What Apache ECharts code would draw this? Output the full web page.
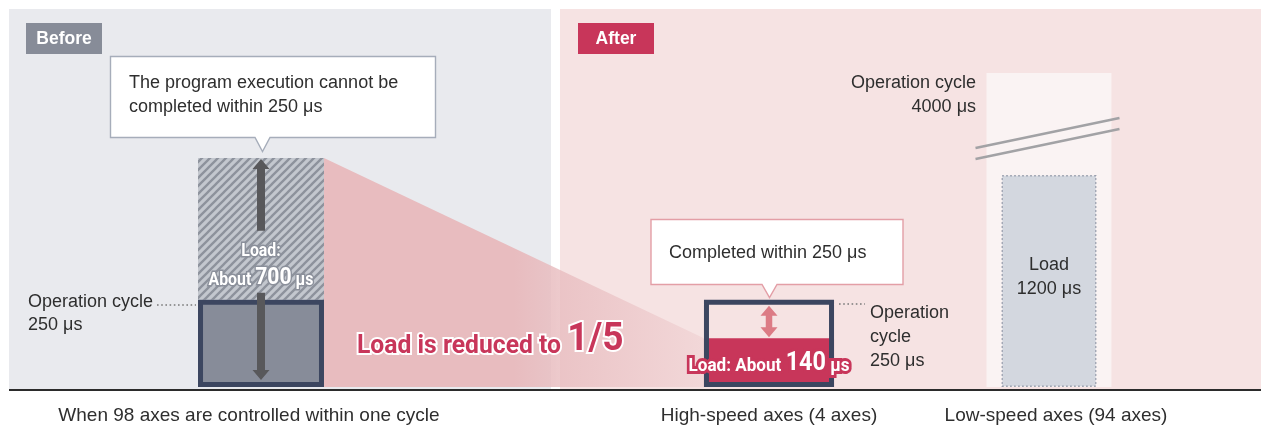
<!DOCTYPE html>
<html>
<head>
<meta charset="utf-8">
<script src="https://cdn.jsdelivr.net/npm/echarts@6/dist/echarts.min.js"></script>
<style>
html,body{margin:0;padding:0;background:#ffffff;}
#chart{width:1261px;height:425px;}
</style>
</head>
<body>
<div id="chart"></div>
<script>
// ---------------- data ----------------
const mainCategories = ['When 98 axes are controlled within one cycle', '', 'High-speed axes (4 axes)'];
const lowCategories = ['Low-speed axes (94 axes)'];
const cycleUs = [250, null, 250];          // operation cycle (μs)
const loadUs = [656, null, 140];           // program load (μs), as drawn
const loadValueLabels = ['700', '', '140'];
const lowCycleUs = [4000];                 // low-speed operation cycle (μs)
const lowLoadUs = [1200];                  // low-speed load (μs)
const reductionLabel = ['Load is reduced to ', '1/5'];

// ---------------- styles ----------------
const BODY = "'Liberation Sans', Arial, Helvetica, sans-serif";
const COND = "Roboto, 'Liberation Sans', Arial, sans-serif";
const TXT = '#2e2e2e';
const CRIMSON = '#c8365a';
const NAVY = '#3c4660';
const BEFORE_W = 0.496;
const AFTER_W = 0.512;
const LOW_COL_W = 0.492;
const LOW_LOAD_W = 0.374;

function makeHatch() {
  const c = document.createElement('canvas');
  c.width = 8; c.height = 8;
  const g = c.getContext('2d');
  g.fillStyle = '#c3c7ce';
  g.fillRect(0, 0, 8, 8);
  g.strokeStyle = '#8d929c';
  g.lineWidth = 2.3;
  g.beginPath();
  g.moveTo(-2, 10); g.lineTo(10, -2);
  g.moveTo(-6, 6); g.lineTo(6, -6);
  g.moveTo(2, 14); g.lineTo(14, 2);
  g.stroke();
  return { image: c, repeat: 'repeat' };
}
const hatchPattern = makeHatch();

function arrow(cx, tipY, endY, headW, headH, shaftW) {
  const d = tipY < endY ? 1 : -1;
  const hb = tipY + d * headH;
  return [[cx, tipY], [cx + headW / 2, hb], [cx + shaftW / 2, hb], [cx + shaftW / 2, endY],
          [cx - shaftW / 2, endY], [cx - shaftW / 2, hb], [cx - headW / 2, hb]];
}
function doubleArrow(cx, y1, y2, headW, headH, shaftW) {
  return [[cx, y1], [cx + headW / 2, y1 + headH], [cx + shaftW / 2, y1 + headH], [cx + shaftW / 2, y2 - headH],
          [cx + headW / 2, y2 - headH], [cx, y2], [cx - headW / 2, y2 - headH], [cx - shaftW / 2, y2 - headH],
          [cx - shaftW / 2, y1 + headH], [cx - headW / 2, y1 + headH]];
}
function richText(x, y, text, rich, extra) {
  return Object.assign({
    type: 'text', x: x, y: y,
    style: Object.assign({
      text: text, rich: rich,
      align: 'center', verticalAlign: 'bottom',
      textAlign: 'center', textVerticalAlign: 'bottom'
    }, extra.style || {})
  }, extra.el || {});
}

// ---------------- render functions ----------------
function renderMain(params, api) {
  const i = api.value(0);
  const cyc = api.value(1);
  const load = api.value(2);
  const slot = api.size([1, 0])[0];
  const base = api.coord([i, 0]);
  const cx = base[0], by = base[1];
  const cycTop = api.coord([i, cyc])[1];
  const loadTop = api.coord([i, load])[1];
  const label = loadValueLabels[i];
  if (i === 0) {
    const w = slot * BEFORE_W, l = cx - w / 2;
    const tokA = { fontSize: 18, lineHeight: 19.7, fontFamily: COND, fontWeight: 'bold', fill: '#fff', stroke: '#8b909b', lineWidth: 3, verticalAlign: 'bottom' };
    const tokB = { fontSize: 24, lineHeight: 24, fontFamily: COND, fontWeight: 'bold', fill: '#fff', stroke: '#8b909b', lineWidth: 3, verticalAlign: 'bottom' };
    return {
      type: 'group',
      children: [
        { type: 'rect', shape: { x: l, y: loadTop, width: w, height: cycTop - loadTop }, style: { fill: hatchPattern } },
        { type: 'rect', shape: { x: l + 2.5, y: cycTop + 2.5, width: w - 5, height: by - cycTop - 5 }, style: { fill: '#878c99', stroke: NAVY, lineWidth: 5 } },
        { type: 'polygon', shape: { points: arrow(cx, loadTop + 1, cycTop - 69, 17, 10, 8) }, style: { fill: '#58585b' } },
        { type: 'polygon', shape: { points: arrow(cx, by - 7, cycTop - 7, 17, 10, 8) }, style: { fill: '#58585b' } },
        richText(cx, cycTop - 39, '{a|Load:}', { a: Object.assign({}, tokA, { fontSize: 18, lineHeight: 18 }) }, { el: { scaleX: 0.88 }, style: { fill: '#fff', stroke: '#8b909b', lineWidth: 3 } }),
        richText(cx, cycTop - 10, '{a|About }{b|' + label + '}{a| μs}', { a: tokA, b: tokB }, { el: { scaleX: 0.88 }, style: { fill: '#fff', stroke: '#8b909b', lineWidth: 3 } })
      ]
    };
  }
  const w = slot * AFTER_W, l = cx - w / 2;
  const tA = { fontSize: 19, lineHeight: 21, fontFamily: COND, fontWeight: 'bold', fill: '#fff', stroke: CRIMSON, lineWidth: 6, verticalAlign: 'bottom' };
  const tB = { fontSize: 26, lineHeight: 26, fontFamily: COND, fontWeight: 'bold', fill: '#fff', stroke: CRIMSON, lineWidth: 6, verticalAlign: 'bottom' };
  return {
    type: 'group',
    children: [
      { type: 'rect', shape: { x: l, y: loadTop, width: w, height: by - loadTop }, style: { fill: CRIMSON } },
      { type: 'rect', shape: { x: l + 2.5, y: cycTop + 2.5, width: w - 5, height: by - cycTop - 5 }, style: { fill: 'none', stroke: NAVY, lineWidth: 5 } },
      { type: 'polygon', shape: { points: doubleArrow(cx, cycTop + 6, loadTop - 1, 17, 10, 6.5) }, style: { fill: '#dc7b85' } },
      richText(cx, by - 11, '{a|Load: About }{b|' + label + '}{a| μs}', { a: tA, b: tB }, { el: { scaleX: 0.9 }, style: { fill: '#fff', stroke: CRIMSON, lineWidth: 6 } })
    ]
  };
}

function renderWedge(params, api) {
  const slot = api.size([1, 0])[0];
  const a = api.coord([api.value(0), api.value(1)]);
  const b = api.coord([api.value(2), api.value(3)]);
  const by = api.coord([api.value(0), 0])[1];
  const x1 = a[0] + slot * BEFORE_W / 2;
  const x2 = b[0] - slot * AFTER_W / 2;
  return {
    type: 'polygon',
    shape: { points: [[x1, a[1]], [x2, b[1]], [x2, by], [x1, by]] },
    style: {
      fill: new echarts.graphic.LinearGradient(0, 0, 1, 0, [
        { offset: 0, color: 'rgba(232,188,191,1)' },
        { offset: 0.5, color: 'rgba(232,188,191,1)' },
        { offset: 0.62, color: 'rgba(232,188,191,0.8)' },
        { offset: 1, color: 'rgba(232,188,191,0.3)' }
      ])
    }
  };
}

function renderLow(params, api) {
  const cs = params.coordSys;
  const slot = api.size([1, 0])[0];
  const base = api.coord([api.value(0), 0]);
  const cx = base[0], by = base[1];
  const cycTop = Math.max(api.coord([api.value(0), api.value(1)])[1], cs.y);
  const loadTop = api.coord([api.value(0), api.value(2)])[1];
  const cw = slot * LOW_COL_W, lw = slot * LOW_LOAD_W;
  const cl = cx - cw / 2, cr = cx + cw / 2;
  const ll = cx - lw / 2;
  return {
    type: 'group',
    children: [
      { type: 'rect', shape: { x: cl, y: cycTop, width: cw, height: by - cycTop }, style: { fill: '#faf3f3' } },
      { type: 'line', shape: { x1: cl - 11, y1: cycTop + 75, x2: cr + 8, y2: cycTop + 45 }, style: { stroke: '#a2a2a5', lineWidth: 2.5 } },
      { type: 'line', shape: { x1: cl - 11, y1: cycTop + 86, x2: cr + 8, y2: cycTop + 56 }, style: { stroke: '#a2a2a5', lineWidth: 2.5 } },
      { type: 'rect', shape: { x: ll + 0.75, y: loadTop + 0.75, width: lw - 1.5, height: by - loadTop - 1.5 }, style: { fill: '#d3d7df', stroke: '#9097a7', lineWidth: 1.5, lineDash: [1.5, 2.5] } },
      { type: 'text', x: cx, y: (loadTop + by) / 2 - 4,
        style: { text: 'Load\n' + api.value(2) + ' μs', fontSize: 18, fontFamily: BODY, fill: TXT, lineHeight: 24,
                 align: 'center', verticalAlign: 'middle', textAlign: 'center', textVerticalAlign: 'middle' } }
    ]
  };
}

// ---------------- graphic helpers ----------------
function T(x, y, text, s, el) {
  return Object.assign({
    type: 'text', x: x, y: y, z: 20, silent: true,
    style: Object.assign({
      text: text, fill: TXT, fontSize: 18, fontFamily: BODY, lineHeight: 24,
      align: 'left', verticalAlign: 'middle', textAlign: 'left', textVerticalAlign: 'middle'
    }, s || {})
  }, el || {});
}
function dotted(x1, y1, x2, y2) {
  return { type: 'line', z: 20, silent: true, shape: { x1: x1, y1: y1, x2: x2, y2: y2 }, style: { stroke: '#7a7a7a', lineWidth: 1.6, lineDash: [1.6, 2.6] } };
}

const redA = { fontSize: 26, lineHeight: 29.8, fontFamily: COND, fontWeight: 'bold', fill: CRIMSON, stroke: '#fff', lineWidth: 4, verticalAlign: 'bottom' };
const redB = { fontSize: 39, lineHeight: 39, fontFamily: COND, fontWeight: 'bold', fill: CRIMSON, stroke: '#fff', lineWidth: 4, verticalAlign: 'bottom' };

const graphics = [
  { type: 'rect', z: -10, silent: true, shape: { x: 9, y: 9, width: 542, height: 381 }, style: { fill: '#e9eaee' } },
  { type: 'rect', z: -10, silent: true, shape: { x: 560, y: 9, width: 701, height: 381 }, style: { fill: '#f6e3e3' } },
  { type: 'rect', z: 50, silent: true, shape: { x: 9, y: 389, width: 1252, height: 2 }, style: { fill: '#2b2b2b' } },
  { type: 'rect', z: 10, silent: true, shape: { x: 26, y: 23, width: 76, height: 31 }, style: { fill: '#878c98' } },
  T(64, 39, 'Before', { fill: '#fff', fontWeight: 'bold', fontSize: 17.5, align: 'center', textAlign: 'center' }),
  { type: 'rect', z: 10, silent: true, shape: { x: 578, y: 23, width: 76, height: 31 }, style: { fill: CRIMSON } },
  T(616, 39, 'After', { fill: '#fff', fontWeight: 'bold', fontSize: 17.5, align: 'center', textAlign: 'center' }),
  { type: 'polygon', z: 10, silent: true,
    shape: { points: [[110.5, 56.5], [435.5, 56.5], [435.5, 137.5], [270, 137.5], [262.5, 151.5], [255, 137.5], [110.5, 137.5]] },
    style: { fill: '#fff', stroke: '#a6adba', lineWidth: 1.4 } },
  T(129, 95, 'The program execution cannot be\ncompleted within ' + cycleUs[0] + ' μs'),
  { type: 'polygon', z: 10, silent: true,
    shape: { points: [[651, 219.5], [903, 219.5], [903, 284.5], [777, 284.5], [769.5, 297.5], [762, 284.5], [651, 284.5]] },
    style: { fill: '#fff', stroke: '#e39ea6', lineWidth: 1.4 } },
  T(669, 253, 'Completed within ' + cycleUs[2] + ' μs'),
  T(28, 314, 'Operation cycle\n' + cycleUs[0] + ' μs', { lineHeight: 23 }),
  dotted(157, 305, 196, 305),
  dotted(839, 304, 865, 304),
  T(870, 337, 'Operation\ncycle\n' + cycleUs[2] + ' μs'),
  T(976, 95, 'Operation cycle\n' + lowCycleUs[0] + ' μs', { align: 'right', textAlign: 'right' }),
  { type: 'text', x: 357, y: 359.7, z: 30, silent: true, scaleX: 0.95,
    style: { text: '{a|' + reductionLabel[0] + '}{b|' + reductionLabel[1] + '}', rich: { a: redA, b: redB },
             fill: CRIMSON, stroke: '#fff', lineWidth: 4,
             align: 'left', verticalAlign: 'bottom', textAlign: 'left', textVerticalAlign: 'bottom' } }
];

// ---------------- chart ----------------
const chart = echarts.init(document.getElementById('chart'), null, { renderer: 'canvas' });
const mainData = [];
cycleUs.forEach(function (c, i) { if (c !== null) mainData.push([i, c, loadUs[i]]); });

const axisLabelBase = { interval: 0, margin: 19, color: TXT, fontSize: 19, fontFamily: BODY };

chart.setOption({
  animation: false,
  grid: [
    { left: 134, width: 762, top: 38, bottom: 35 },
    { left: 922, width: 254, top: 73, bottom: 35 }
  ],
  xAxis: [
    { type: 'category', gridIndex: 0, data: mainCategories,
      axisLine: { show: false }, axisTick: { show: false }, splitLine: { show: false },
      axisLabel: Object.assign({}, axisLabelBase, {
        formatter: function (v, i) { return i === 0 ? '{l|' + v + '}' : v; },
        rich: { l: { fontSize: 19, fontFamily: BODY, color: TXT, padding: [0, 24, 0, 0] } }
      }) },
    { type: 'category', gridIndex: 1, data: lowCategories,
      axisLine: { show: false }, axisTick: { show: false }, splitLine: { show: false },
      axisLabel: Object.assign({}, axisLabelBase, {
        formatter: function (v) { return '{r|' + v + '}'; },
        rich: { r: { fontSize: 19, fontFamily: BODY, color: TXT, padding: [0, 0, 0, 14] } }
      }) }
  ],
  yAxis: [
    { type: 'value', gridIndex: 0, min: 0, max: 1000, show: false },
    { type: 'value', gridIndex: 1, min: 0, max: 1778, show: false }
  ],
  series: [
    { type: 'custom', name: 'Load reduction', xAxisIndex: 0, yAxisIndex: 0, z: 1, silent: true,
      data: [[0, loadUs[0], 2, loadUs[2]]], renderItem: renderWedge },
    { type: 'custom', name: 'Operation cycle / load', xAxisIndex: 0, yAxisIndex: 0, z: 3, silent: true,
      data: mainData, renderItem: renderMain },
    { type: 'custom', name: 'Low-speed axes', xAxisIndex: 1, yAxisIndex: 1, z: 3, silent: true,
      data: [[0, lowCycleUs[0], lowLoadUs[0]]], renderItem: renderLow }
  ],
  graphic: { elements: graphics }
});
</script>
</body>
</html>
